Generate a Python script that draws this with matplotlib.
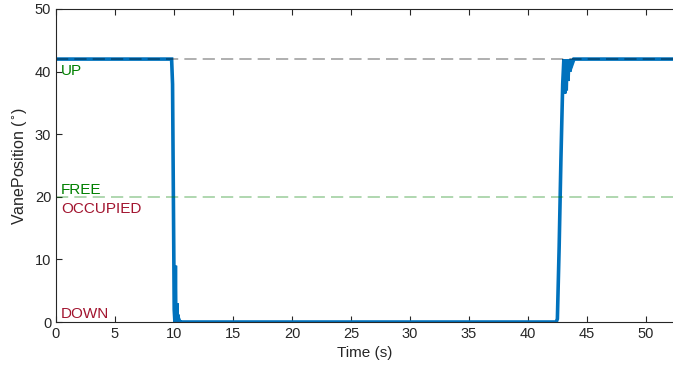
import numpy as np
import matplotlib.pyplot as plt

plt.rcParams['font.family'] = ['Liberation Sans', 'DejaVu Sans']

# vane position trace (s, deg)
time = [0.0, 9.80, 9.88, 9.95, 10.02, 10.08, 10.12, 10.16, 10.20, 10.24, 10.28,
        10.32, 10.36, 10.42, 10.50, 10.60, 42.40, 42.50, 42.65, 42.80, 42.95,
        43.05, 43.12, 43.18, 43.25, 43.32, 43.40, 43.48, 43.56, 43.65, 43.75,
        43.90, 44.10, 52.5]
vane = [42.0, 42.0, 38.0, 20.0, 2.0, 0.0, 9.0, 0.5, 0.0, 3.0, 0.3,
        1.2, 0.0, 0.4, 0.0, 0.0, 0.0, 0.5, 12.0, 26.0, 38.0,
        42.0, 36.5, 41.8, 37.0, 42.0, 38.5, 42.0, 40.0, 42.0, 41.2,
        42.0, 42.0, 42.0]

up_level = 42
free_level = 20

fig = plt.figure(figsize=(6.73, 3.70), dpi=100)
ax = fig.add_axes([0.0832, 0.1297, 0.9168, 0.8460])

ax.plot(time, vane, color='#0072BD', lw=2.6, solid_joinstyle='miter')
ax.axhline(up_level, color='k', alpha=0.4, ls=(0, (8, 4)), lw=1.1)
ax.axhline(free_level, color='#008000', alpha=0.4, ls=(0, (8, 4)), lw=1.1)

ax.text(0.42, 39.45, 'UP', color='#008000', fontsize=11, va='baseline')
ax.text(0.42, 20.45, 'FREE', color='#008000', fontsize=11, va='baseline')
ax.text(0.42, 17.4, 'OCCUPIED', color='#A2142F', fontsize=11, va='baseline')
ax.text(0.42, 0.64, 'DOWN', color='#A2142F', fontsize=11, va='baseline')

ax.set_xlim(0, 52.3)
ax.set_ylim(0, 50)
ax.set_xticks(np.arange(0, 51, 5))
ax.set_yticks(np.arange(0, 51, 10))
ax.set_xlabel('Time (s)', fontsize=11, color='#262626')
ax.set_ylabel('VanePosition ($^{\\circ}$)', fontsize=11.5, color='#262626')

for s in ['left', 'top', 'bottom']:
    ax.spines[s].set_color('#262626')
    ax.spines[s].set_linewidth(0.8)
ax.spines['right'].set_visible(False)
ax.tick_params(direction='in', length=4, width=0.8, colors='#262626',
               labelsize=10.5, top=True, right=False)

fig.savefig('out.png', dpi=100)
